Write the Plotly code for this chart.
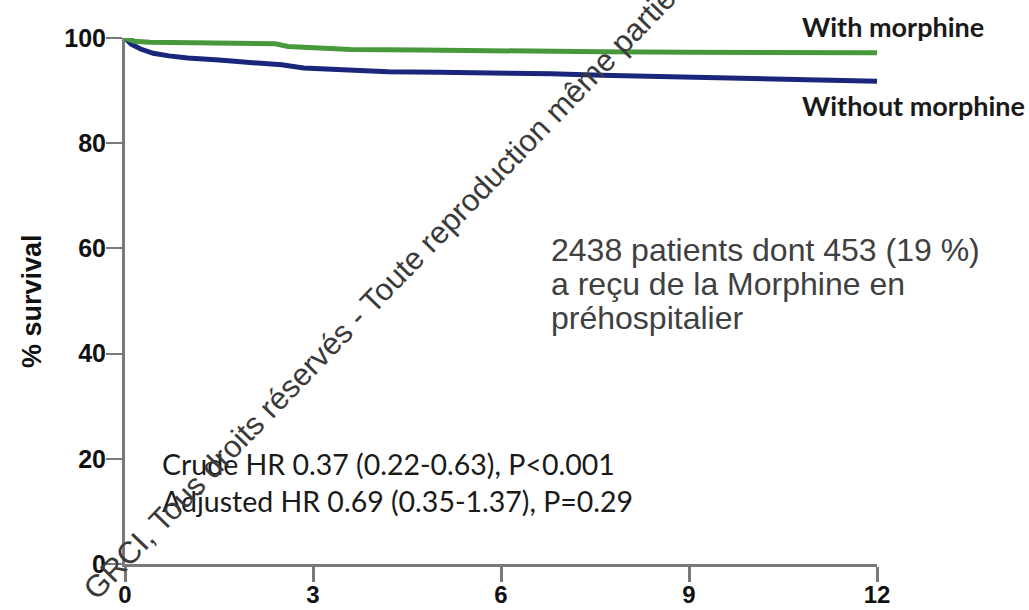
import plotly.graph_objects as go

# ---- data ----
t_without = [0, 0.1, 0.25, 0.45, 0.7, 1.0, 1.5, 2.0, 2.5, 2.85, 3.3, 4.2, 5.0, 5.8, 6.8, 7.6, 8.5, 10.0, 11.0, 12.0]
s_without = [100, 98.8, 97.9, 97.1, 96.6, 96.2, 95.8, 95.4, 94.9, 94.3, 94.0, 93.6, 93.5, 93.4, 93.2, 92.9, 92.7, 92.4, 92.1, 91.8]

t_with = [0, 0.15, 0.4, 1.0, 2.0, 2.4, 2.6, 3.0, 3.6, 4.7, 6.0, 7.6, 9.0, 10.5, 12.0]
s_with = [100, 99.4, 99.2, 99.1, 99.0, 98.9, 98.4, 98.2, 97.8, 97.7, 97.5, 97.4, 97.3, 97.2, 97.2]

x_ticks = [0, 3, 6, 9, 12]
y_ticks = [0, 20, 40, 60, 80, 100]

label_with = "With morphine"
label_without = "Without morphine"
info_lines = ["2438 patients dont 453 (19 %)", "a reçu de la Morphine en", "préhospitalier"]
hr_lines = ["Crude HR 0.37 (0.22-0.63), P<0.001", "Adjusted HR 0.69 (0.35-1.37), P=0.29"]
watermark = "GRCI, Tous droits réservés - Toute reproduction même partielle interdite"

# ---- layout geometry (pixels) ----
W, H = 1029, 610
L, R, T, B = 125, 877, 38, 564

def px(xp):
    return (xp - L) / (R - L)

def py(yp):
    return (B - yp) / (B - T)

fig = go.Figure()
fig.add_trace(go.Scatter(x=t_without, y=s_without, mode="lines", line=dict(color="#1a267c", width=5),
                         line_shape="linear", cliponaxis=False, showlegend=False, hoverinfo="skip"))
fig.add_trace(go.Scatter(x=t_with, y=s_with, mode="lines", line=dict(color="#47993b", width=5),
                         line_shape="linear", cliponaxis=False, showlegend=False, hoverinfo="skip"))

axis_col = "#7a7a7a"
tickfont = dict(family="Liberation Sans, Arial", size=25, color="#111", weight="bold")

fig.update_xaxes(range=[0, 12], tickvals=x_ticks, ticktext=[str(v) for v in x_ticks], automargin=False,
                 showline=True, linecolor=axis_col, linewidth=3, ticks="outside", ticklen=15,
                 tickwidth=3, tickcolor=axis_col, showgrid=False, zeroline=False,
                 tickfont=dict(family="Liberation Sans, Arial", size=24, color="#111", weight="bold"),
                 ticklabelstandoff=-8)
fig.update_yaxes(range=[0, 100], tickvals=y_ticks, ticktext=[str(v) for v in y_ticks], automargin=False,
                 showline=True, linecolor=axis_col, linewidth=3, ticks="outside", ticklen=16,
                 tickwidth=2, tickcolor=axis_col, showgrid=False, zeroline=False, tickfont=tickfont,
                 ticklabelstandoff=-5)

ann = []
calib = "Lato, Open Sans, sans-serif"
ann.append(dict(x=px(800), y=py(26), xref="paper", yref="paper", text=label_with, showarrow=False,
                xanchor="left", yanchor="middle", font=dict(family=calib, size=27, color="#1a1a1a", weight="bold")))
ann.append(dict(x=px(800), y=py(105), xref="paper", yref="paper", text=label_without, showarrow=False,
                xanchor="left", yanchor="middle", font=dict(family=calib, size=27, color="#1a1a1a", weight="bold")))
for i, line in enumerate(info_lines):
    ann.append(dict(x=px(549), y=py(250 + 34 * i), xref="paper", yref="paper", text=line, showarrow=False,
                    xanchor="left", yanchor="middle",
                    font=dict(family="Liberation Sans, Arial", size=32, color="#404040")))
for i, line in enumerate(hr_lines):
    ann.append(dict(x=px(160), y=py(464 + 37 * i), xref="paper", yref="paper", text=line, showarrow=False,
                    xanchor="left", yanchor="middle",
                    font=dict(family=calib, size=28.5, color="#1a1a1a")))
ann.append(dict(x=px(32), y=py(301), xref="paper", yref="paper", text="% survival", showarrow=False,
                textangle=-90, xanchor="center", yanchor="middle",
                font=dict(family="Liberation Sans, Arial", size=27, color="#111", weight="bold")))
ann.append(dict(x=px(432), y=py(240), xref="paper", yref="paper", text=watermark, showarrow=False,
                textangle=-46, xanchor="center", yanchor="middle",
                font=dict(family="Liberation Sans, Arial", size=31, color="#3a3a3a")))

fig.update_layout(width=W, height=H, autosize=False,
                  margin=dict(l=L, r=W - R, t=T, b=H - B, pad=0, autoexpand=False),
                  plot_bgcolor="white", paper_bgcolor="white", annotations=ann)

fig.write_html("out.html")
